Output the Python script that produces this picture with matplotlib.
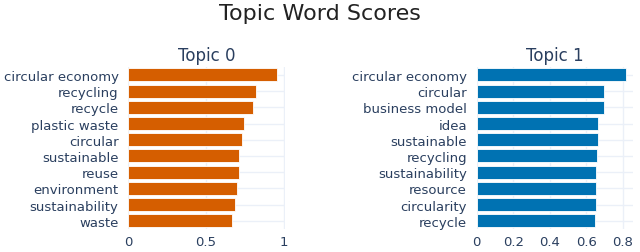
import matplotlib
matplotlib.use("Agg")
import matplotlib.pyplot as plt

plt.rcParams['font.family'] = ['DejaVu Sans']

title = "Topic Word Scores"
topic0_words = ["circular economy", "recycling", "recycle", "plastic waste", "circular",
                "sustainable", "reuse", "environment", "sustainability", "waste"]
topic0_scores = [0.957, 0.824, 0.800, 0.742, 0.731, 0.712, 0.710, 0.699, 0.686, 0.671]
topic1_words = ["circular economy", "circular", "business model", "idea", "sustainable",
                "recycling", "sustainability", "resource", "circularity", "recycle"]
topic1_scores = [0.818, 0.699, 0.699, 0.663, 0.663, 0.657, 0.653, 0.653, 0.651, 0.647]
topic0_ticks = [0, 0.5, 1]
topic0_ticklabels = ["0", "0.5", "1"]
topic1_ticks = [0, 0.2, 0.4, 0.6, 0.8]
topic1_ticklabels = ["0", "0.2", "0.4", "0.6", "0.8"]

text_color = "#2a3f5f"
grid_color = "#ebf0f8"

fig = plt.figure(figsize=(6.4, 2.53), dpi=100)
fig.patch.set_facecolor("white")

def panel(rect, words, scores, color, ticks, ticklabels, xmax, sub):
    ax = fig.add_axes(rect)
    y = list(range(len(words)))[::-1]
    ax.set_axisbelow(True)
    ax.barh(y, scores, height=0.8, color=color, edgecolor="white", linewidth=0.6)
    ax.set_yticks(y)
    ax.set_yticklabels(words, fontsize=9.5, color=text_color)
    ax.set_xticks(ticks)
    ax.set_xticklabels(ticklabels, fontsize=9.5, color=text_color)
    ax.set_xlim(0, xmax)
    ax.set_ylim(-0.5, len(words) - 0.5)
    for s in ax.spines.values():
        s.set_visible(False)
    ax.tick_params(axis="y", length=0, pad=7)
    ax.tick_params(axis="x", length=0, pad=4)
    ax.grid(True, color=grid_color, linewidth=1)
    ax.set_title(sub, fontsize=12, color=text_color, pad=5)
    return ax

panel([0.2005, 0.0909, 0.245, 0.6415], topic0_words, topic0_scores, "#D55E00",
      topic0_ticks, topic0_ticklabels, 1.01, "Topic 0")
panel([0.7448, 0.0909, 0.2442, 0.6415], topic1_words, topic1_scores, "#0072B2",
      topic1_ticks, topic1_ticklabels, 0.856, "Topic 1")

fig.text(0.5, 0.945, title, ha="center", va="center", fontsize=16, color="#222222")

fig.savefig("out.png", dpi=100)
